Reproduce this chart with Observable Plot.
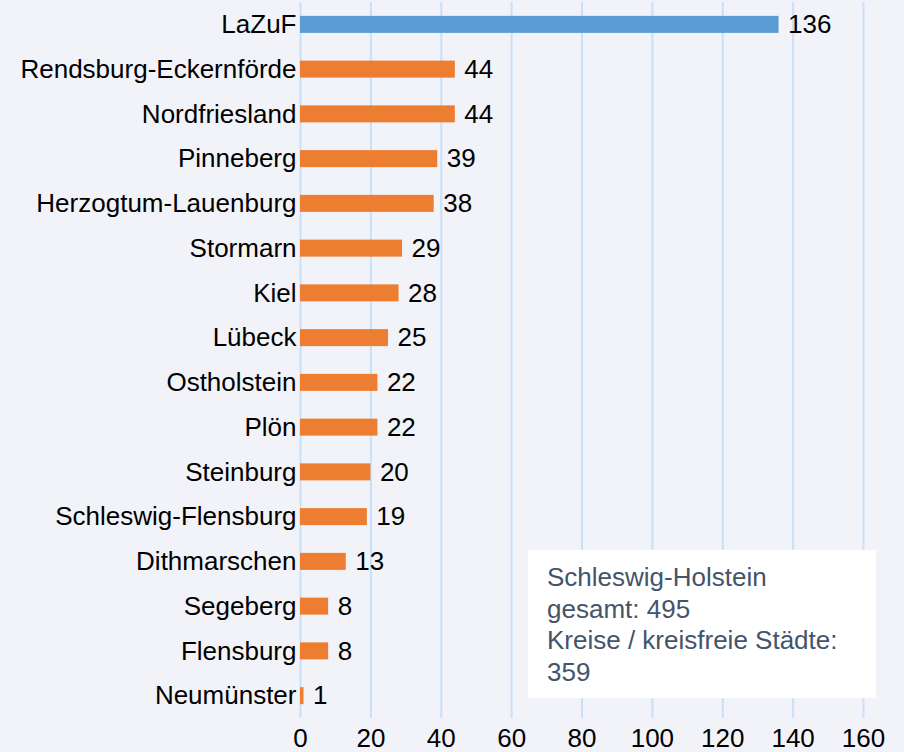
<!DOCTYPE html>
<html><head><meta charset="utf-8">
<script src="https://cdn.jsdelivr.net/npm/d3@7"></script>
<script src="https://cdn.jsdelivr.net/npm/@observablehq/plot@0.6"></script>
<style>
html,body{margin:0;padding:0;background:#f2f3f8;}
#wrap{position:relative;width:904px;height:752px;font-family:"Liberation Sans",Arial,sans-serif;}
#note{position:absolute;left:528px;top:550px;width:348px;height:148px;background:#fff;box-sizing:border-box;padding:12px 0 0 19px;color:#44546a;font-size:26px;line-height:31.5px;white-space:nowrap;}
</style></head>
<body><div id="wrap"></div>
<script>
const categories = ["LaZuF","Rendsburg-Eckernförde","Nordfriesland","Pinneberg","Herzogtum-Lauenburg","Stormarn","Kiel","Lübeck","Ostholstein","Plön","Steinburg","Schleswig-Flensburg","Dithmarschen","Segeberg","Flensburg","Neumünster"];
const values = [136,44,44,39,38,29,28,25,22,22,20,19,13,8,8,1];
const groups = ["LaZuF","Kreis","Kreis","Kreis","Kreis","Kreis","Kreis","Kreis","Kreis","Kreis","Kreis","Kreis","Kreis","Kreis","Kreis","Kreis"];
const xTicks = [0,20,40,60,80,100,120,140,160];
const noteLines = ["Schleswig-Holstein","gesamt: 495","Kreise / kreisfreie Städte:","359"];

const data = categories.map((c,i)=>({name:c, value:values[i], group:groups[i]}));

const chart = Plot.plot({
  width: 904, height: 752,
  marginTop: 2, marginBottom: 34, marginLeft: 300, marginRight: 41,
  style: {background: "transparent", fontFamily: "'Liberation Sans', Arial, sans-serif", fontSize: "26px", color: "#000"},
  x: {domain: [0, 160], ticks: xTicks, label: null},
  y: {domain: categories, paddingInner: 0.62, paddingOuter: 0.31, round: false, label: null},
  color: {domain: ["LaZuF","Kreis"], range: ["#5b9bd5","#ed7d31"]},
  marks: [
    Plot.ruleX(xTicks, {stroke: "#c8e0f9", strokeWidth: 2, y1: null, y2: null}),
    Plot.barX(data, {y: "name", x: "value", fill: "group"}),
    Plot.text(data, {y: "name", x: "value", text: d => String(d.value), textAnchor: "start", dx: 9, fill: "#000", fontSize: 26}),
    Plot.axisY({tickSize: 0, tickPadding: 4, fontSize: 26, label: null}),
    Plot.axisX({tickSize: 0, tickPadding: 10, fontSize: 26, label: null, ticks: xTicks})
  ]
});
document.getElementById("wrap").appendChild(chart);
const note = document.createElement("div");
note.id = "note";
note.innerHTML = noteLines.map(s => `<div>${s}</div>`).join("");
document.getElementById("wrap").appendChild(note);
</script>
</body></html>
